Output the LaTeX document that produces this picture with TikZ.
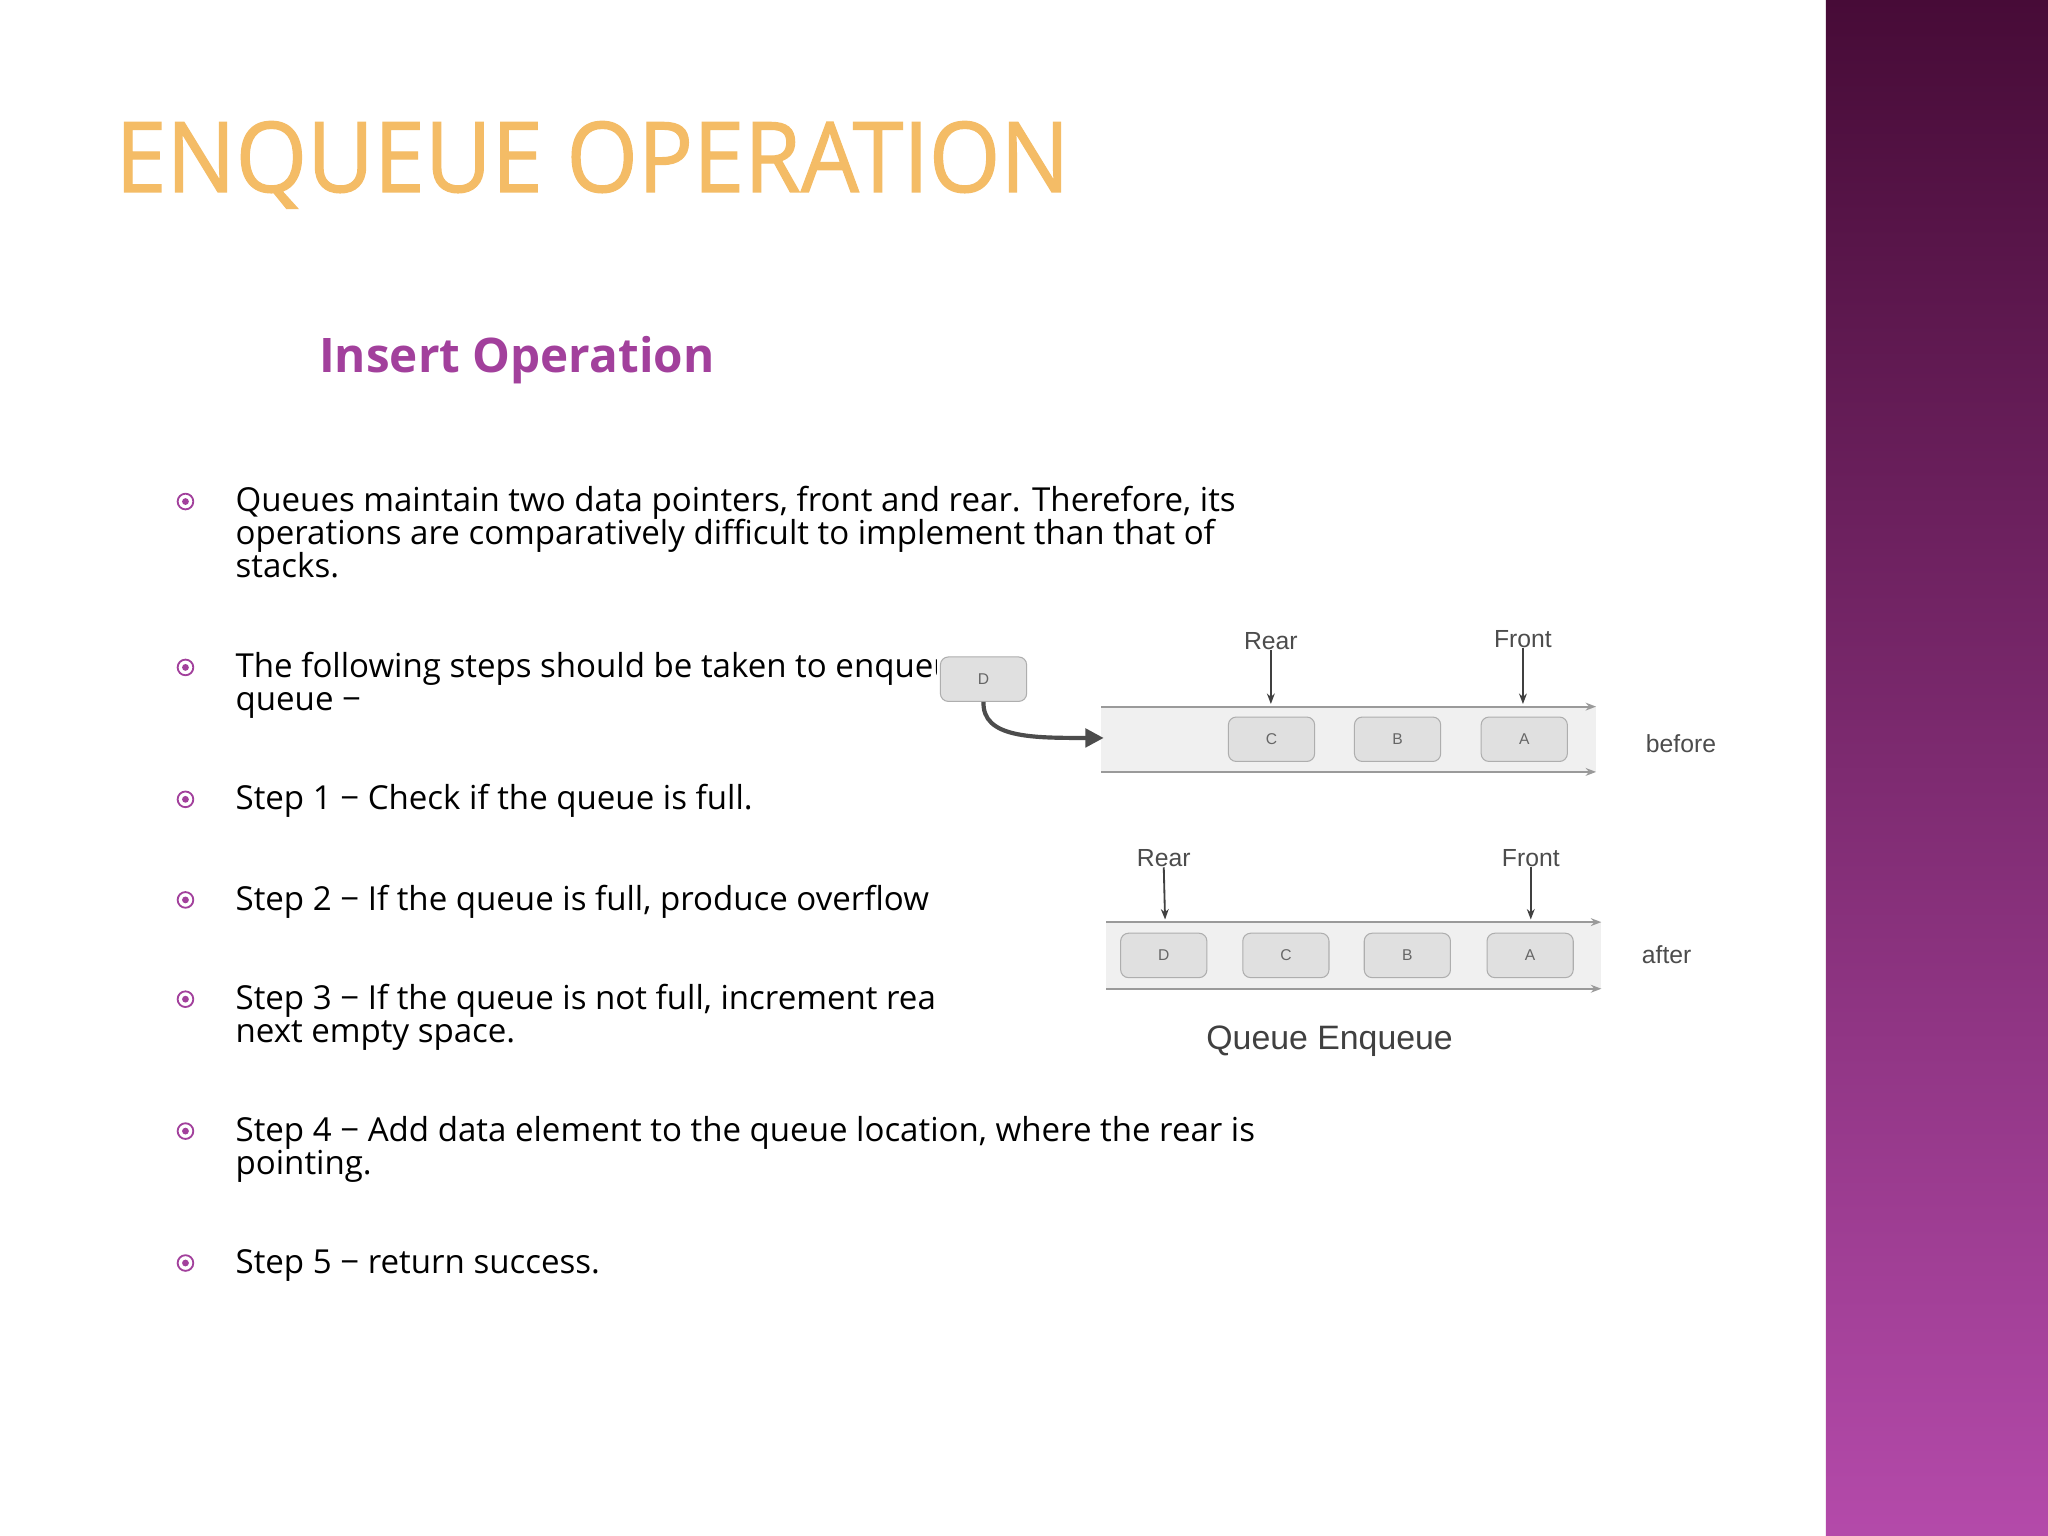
\documentclass[tikz,border=0pt]{standalone}
\usepackage{fontspec}
\setmainfont{Open Sans}
\newfontfamily\diagfont{Liberation Sans}
\newfontfamily\titlefont[FakeStretch=0.94,FakeBold=1.2]{Open Sans}
\usetikzlibrary{arrows.meta}
\definecolor{purp}{HTML}{A2409C}
\definecolor{barTop}{HTML}{470B37}
\definecolor{barBot}{HTML}{B44AAA}
\definecolor{ttl}{HTML}{F4BC66}
\definecolor{lgray}{HTML}{9A9A9A}
\tikzset{
  body/.style={anchor=base west,inner sep=0pt,font=\fontsize{12.7}{14}\selectfont,text=black},
  qbox/.style={draw=lgray!80,fill=black!12,rounded corners=3bp,minimum width=33bp,minimum height=17bp,inner sep=0pt,font=\diagfont\fontsize{6}{7}\selectfont,text=black!60},
  qlbl/.style={font=\diagfont\fontsize{9.5}{11}\selectfont,text=black!70,inner sep=0pt},
  rail/.style={draw=lgray,line width=0.8bp,-{Stealth[length=4bp,width=3bp]}},
  ptr/.style={draw=black!75,line width=0.7bp,-{Stealth[length=4bp,width=3bp]}}
}
\newcommand{\bul}[1]{\draw[purp,line width=0.7bp] (142,#1) circle (6); \fill[purp] (142,#1) circle (2.6);}
\begin{document}
\begin{tikzpicture}[x=0.5bp,y=-0.5bp]
\useasboundingbox (0,0) rectangle (1568,1176);
\fill[white] (0,0) rectangle (1568,1176);
\shade[top color=barTop,bottom color=barBot] (1398,0) rectangle (1568,1176);
% title
\node[anchor=base west,inner sep=0pt,text=ttl,font=\titlefont\fontsize{37.5}{40}\selectfont] (title) at (88,147) {ENQUEUE OPERATION};
\node[anchor=base west,inner sep=0pt,text=purp,font=\fontsize{18.3}{22}\selectfont\bfseries] (sub) at (244,285) {Insert Operation};
% bullets
\bul{384}
\node[body] (l1) at (180,392) {Queues maintain two data pointers, front and rear. Therefore, its};
\node[body] (l2) at (180,417) {operations are comparatively difficult to implement than that of};
\node[body] (l3) at (180,442) {stacks.};
\bul{511}
\node[body] (l4) at (180,519) {The following steps should be taken to enqueue (insert) data into a};
\node[body] (l5) at (180,544) {queue −};
\bul{612}
\node[body] (l6) at (180,620) {Step 1 − Check if the queue is full.};
\bul{689}
\node[body] (l7) at (180,697) {Step 2 − If the queue is full, produce overflow error and exit.};
\bul{765}
\node[body] (l8) at (180,773) {Step 3 − If the queue is not full, increment rear pointer to point the};
\node[body] (l9) at (180,798) {next empty space.};
\bul{866}
\node[body] (l10) at (180,874) {Step 4 − Add data element to the queue location, where the rear is};
\node[body] (l11) at (180,899) {pointing.};
\bul{967}
\node[body] (l12) at (180,975) {Step 5 − return success.};
% image area
\fill[white] (717,480) rectangle (1340,820);
% before
\fill[black!6] (843,541) rectangle (1222,591);
\coordinate (b1s) at (843,541); \coordinate (b1e) at (1222,541);
\coordinate (b2s) at (843,591); \coordinate (b2e) at (1222,591);
\draw[rail] (b1s) -- (b1e);
\draw[rail] (b2s) -- (b2e);
\node[qbox] (D0) at (753,520) {D};
\node[qbox] (C0) at (973.5,566) {C};
\node[qbox] (B0) at (1070,566) {B};
\node[qbox] (A0) at (1167,566) {A};
\node[qlbl] (rear0) at (973,491) {Rear};
\node[qlbl] (front0) at (1166,489) {Front};
\coordinate (rt0) at (973,539); \coordinate (ft0) at (1166,539);
\draw[ptr] (rear0.south) -- (rt0);
\draw[ptr] (front0.south) -- (ft0);
\coordinate (ins) at (845,565);
\draw[draw=black!70,line width=1.6bp,-{Triangle[length=7bp,width=7bp]}] (D0.south) .. controls (752,565) and (790,565) .. (ins);
\node[qlbl] (before) at (1287,569) {before};
% after
\fill[black!6] (847,706) rectangle (1226,757);
\coordinate (a1s) at (847,706); \coordinate (a1e) at (1226,706);
\coordinate (a2s) at (847,757); \coordinate (a2e) at (1226,757);
\draw[rail] (a1s) -- (a1e);
\draw[rail] (a2s) -- (a2e);
\node[qbox] (D1) at (891,731.5) {D};
\node[qbox] (C1) at (984.5,731.5) {C};
\node[qbox] (B1) at (1077.5,731.5) {B};
\node[qbox] (A1) at (1171.5,731.5) {A};
\node[qlbl] (rear1) at (891,657) {Rear};
\node[qlbl] (front1) at (1172,657) {Front};
\coordinate (rt1) at (892,704); \coordinate (ft1) at (1172,704);
\draw[ptr] (rear1.south) -- (rt1);
\draw[ptr] (front1.south) -- (ft1);
\node[qlbl] (after) at (1276,731) {after};
\node[font=\diagfont\fontsize{13}{15}\selectfont,text=black!75,inner sep=0pt] (cap) at (1018,797) {Queue Enqueue};
\end{tikzpicture}
\end{document}
